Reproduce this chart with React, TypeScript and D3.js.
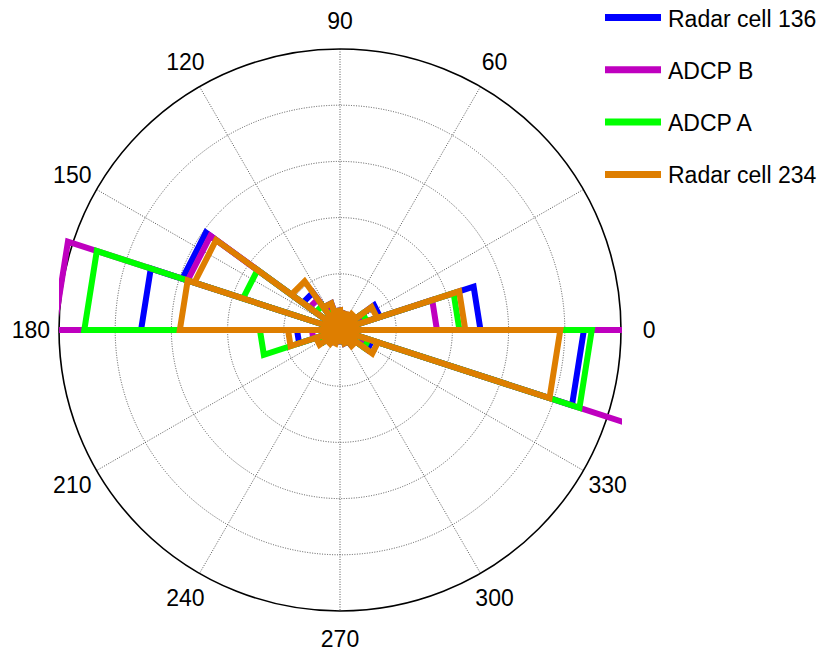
import React from "react";
import * as d3 from "d3";

// Rose histogram: 20 bins of 18°, bin i covers [18*i, 18*(i+1)) degrees
const binStarts = d3.range(0, 360, 18);

const radar136 = [50, 15, 6, 6, 5, 7, 10, 16.4, 59, 70.8, 15.3, 7, 5, 4, 4, 4, 5, 6, 12, 86.8];
const adcpB = [34.5, 8, 5, 4, 4, 5, 8, 13.5, 57, 101.8, 10, 6, 4, 3, 3, 3, 4, 5, 9, 108];
const adcpA = [42.5, 10, 5, 4, 4, 5, 7, 10.7, 36.3, 91, 28.5, 7, 4, 3, 3, 3, 4, 5, 10.7, 89.6];
const radar234 = [44.6, 13.9, 7, 6, 6, 7, 10, 21.4, 54.5, 57, 18.5, 9, 6, 5, 4, 4, 5, 7, 14.2, 78.4];

const seriesNames = ["Radar cell 136", "ADCP B", "ADCP A", "Radar cell 234"];
const seriesColors = ["#0000ff", "#bf00bf", "#00ff00", "#de7e00"];
const seriesValues = [radar136, adcpB, adcpA, radar234];

const ringValues = [20, 40, 60, 80, 100];
const spokeAngles = [0, 30, 60, 90, 120, 150];
const angleLabels = [0, 60, 90, 120, 150, 180, 210, 240, 270, 300, 330];

const W = 819;
const H = 655;
const cx = 340;
const cy = 330;
const R = 281;
const rMax = 100;

export default function App() {
  const r = d3.scaleLinear().domain([0, rMax]).range([0, R]);
  const toXY = (deg: number, v: number): [number, number] => {
    const a = (deg * Math.PI) / 180;
    return [cx + r(v) * Math.cos(a), cy - r(v) * Math.sin(a)];
  };
  const line = d3.line<[number, number]>();

  const rosePath = (vals: number[]) => {
    const pts: [number, number][] = [];
    binStarts.forEach((s, i) => {
      pts.push([cx, cy]);
      pts.push(toXY(s, vals[i]));
      pts.push(toXY(s + 18, vals[i]));
      pts.push([cx, cy]);
    });
    return line(pts) || "";
  };

  const labelR = R * 1.1;
  const font = "'Liberation Sans', Arial, Helvetica, sans-serif";

  return (
    <svg
      width={W}
      height={H}
      style={{ position: "absolute", left: 0, top: 0, display: "block", background: "#fff" }}
    >
      <defs>
        <clipPath id="axclip">
          <rect x={cx - R} y={cy - R} width={2 * R + 1} height={2 * R + 1} />
        </clipPath>
      </defs>
      <rect x={0} y={0} width={W} height={H} fill="#fff" />
      {/* grid rings */}
      {ringValues.slice(0, -1).map((v) => (
        <circle
          key={"ring" + v}
          cx={cx}
          cy={cy}
          r={r(v)}
          fill="none"
          stroke="#444"
          strokeWidth={0.9}
          strokeDasharray="1,1.5"
        />
      ))}
      {/* spokes */}
      {spokeAngles.map((a) => {
        const p1 = toXY(a, rMax);
        const p2 = toXY(a + 180, rMax);
        return (
          <line
            key={"sp" + a}
            x1={p1[0]}
            y1={p1[1]}
            x2={p2[0]}
            y2={p2[1]}
            stroke="#444"
            strokeWidth={0.9}
            strokeDasharray="1,1.5"
          />
        );
      })}
      {/* outer circle */}
      <circle cx={cx} cy={cy} r={R} fill="none" stroke="#000" strokeWidth={1.6} />
      {/* angle labels */}
      {angleLabels.map((a) => {
        const a2 = (a * Math.PI) / 180;
        const x = cx + labelR * Math.cos(a2);
        const y = cy - labelR * Math.sin(a2);
        return (
          <text
            key={"lab" + a}
            x={x}
            y={y}
            textAnchor="middle"
            dominantBaseline="central"
            fontFamily={font}
            fontSize={23}
            fill="#000"
          >
            {a}
          </text>
        );
      })}
      {/* rose series */}
      <g clipPath="url(#axclip)">
        {seriesValues.map((vals, i) => (
          <path
            key={seriesNames[i]}
            d={rosePath(vals)}
            fill="none"
            stroke={seriesColors[i]}
            strokeWidth={6}
            strokeLinejoin="miter"
          />
        ))}
      </g>
      {/* legend */}
      {seriesNames.map((name, i) => {
        const y = 17.5 + i * 52.3;
        return (
          <g key={"leg" + name}>
            <line x1={605} x2={661} y1={y} y2={y} stroke={seriesColors[i]} strokeWidth={7} />
            <text
              x={668}
              y={y + 1}
              dominantBaseline="central"
              fontFamily={font}
              fontSize={23}
              fill="#000"
            >
              {name}
            </text>
          </g>
        );
      })}
    </svg>
  );
}
